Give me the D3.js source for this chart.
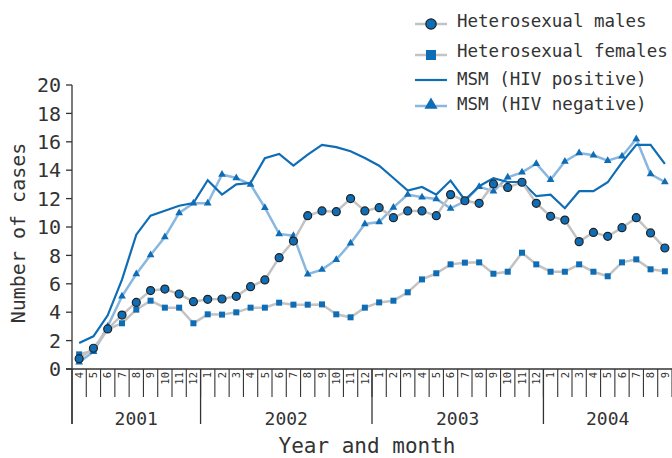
<!DOCTYPE html>
<html>
<head>
<meta charset="utf-8">
<script src="https://cdn.jsdelivr.net/npm/d3@7"></script>
<style>
  body { margin: 0; background: #fff; }
  text { font-family: "DejaVu Sans Mono", monospace; fill: #333; }
</style>
</head>
<body>
<svg id="chart" width="672" height="458"></svg>
<script>
// months shown on the axis, Apr 2001 .. Sep 2004
monthLabels = ["4","5","6","7","8","9","10","11","12",
  "1","2","3","4","5","6","7","8","9","10","11","12",
  "1","2","3","4","5","6","7","8","9","10","11","12",
  "1","2","3","4","5","6","7","8","9"]
years = ["2001","2002","2003","2004"]
yearMonths = [9, 12, 12, 9]
yTicks = [0,2,4,6,8,10,12,14,16,18,20]

hetMales = [0.73,1.46,2.82,3.80,4.69,5.52,5.63,5.28,4.74,4.91,4.93,5.12,5.80,6.27,7.84,9.01,10.80,11.13,11.08,12.0,11.13,
  11.36,10.66,11.13,11.13,10.8,12.28,11.85,11.67,13.03,12.79,13.15,11.67,10.75,10.49,8.97,9.62,9.34,9.95,10.66,9.58,8.52]
hetFemales = [1.03,1.3,2.8,3.22,4.18,4.81,4.32,4.32,3.22,3.85,3.83,3.99,4.32,4.32,4.67,4.53,4.53,4.55,3.85,3.64,4.32,
  4.69,4.81,5.40,6.31,6.74,7.37,7.49,7.51,6.71,6.85,8.19,7.37,6.85,6.85,7.37,6.85,6.53,7.51,7.72,7.02,6.88]
msmPos = [1.83,2.30,3.78,6.29,9.46,10.80,11.15,11.50,11.69,13.3,12.28,13.0,13.1,14.85,15.15,14.32,15.1,15.78,15.62,15.33,14.86,
  14.32,13.45,12.56,12.82,12.28,13.27,11.9,12.87,13.44,13.17,13.17,12.17,12.28,11.32,12.52,12.52,13.15,14.55,15.78,15.78,14.45]
msmNeg = [0.47,1.22,3.0,5.12,6.69,8.03,9.30,10.99,11.67,11.67,13.7,13.45,13.0,11.36,9.51,9.39,6.67,7.0,7.70,8.85,10.21,
  10.35,11.38,12.28,12.09,11.97,11.31,11.81,12.84,12.51,13.5,13.85,14.46,13.33,14.62,15.21,15.05,14.67,14.98,16.2,13.73,13.17]

darkBlue = "#0f6db5"
lightBlue = "#89b7df"
grey = "#c3c3c3"
axisCol = "#333"

svg = d3.select("#chart")
idx = d3.range(monthLabels.length)
x = d3.scaleBand().domain(idx).range([72, 672])
y = d3.scaleLinear().domain([0, 20]).range([369, 85])
cx = function(i){ return x(i) + x.bandwidth() / 2 }

// y axis
svg.append("line").attr("x1",72).attr("x2",72).attr("y1",y(20)).attr("y2",424)
  .attr("stroke",axisCol).attr("stroke-width",1.3)
svg.append("g").selectAll("line").data(yTicks).join("line")
  .attr("x1",66).attr("x2",72).attr("y1",d => y(d)).attr("y2",d => y(d))
  .attr("stroke",axisCol).attr("stroke-width",1.3)
svg.append("g").selectAll("text").data(yTicks).join("text")
  .attr("x",61).attr("y",d => y(d)).attr("dy","0.36em")
  .attr("text-anchor","end").attr("font-size",20).text(d => d)
svg.append("text").attr("transform","translate(25,233) rotate(-90)")
  .attr("text-anchor","middle").attr("font-size",20).text("Number of cases")

// x axis
svg.append("line").attr("x1",66).attr("x2",672).attr("y1",369).attr("y2",369)
  .attr("stroke",axisCol).attr("stroke-width",1.3)
svg.append("g").selectAll("line").data(idx.slice(1).concat([monthLabels.length])).join("line")
  .attr("x1",d => 72 + d * x.bandwidth()).attr("x2",d => 72 + d * x.bandwidth())
  .attr("y1",369).attr("y2",397).attr("stroke",axisCol).attr("stroke-width",1.1)
svg.append("g").selectAll("text").data(idx).join("text")
  .attr("transform",d => "translate(" + cx(d) + ",372) rotate(-90)")
  .attr("text-anchor","end").attr("dy","0.35em").attr("font-size",10.5)
  .text(d => monthLabels[d])

yearStart = d3.cumsum([0].concat(yearMonths))
svg.append("g").selectAll("line").data(yearStart.slice(0, years.length)).join("line")
  .attr("x1",d => 72 + d * x.bandwidth()).attr("x2",d => 72 + d * x.bandwidth())
  .attr("y1",369).attr("y2",424).attr("stroke",axisCol).attr("stroke-width",1.3)
svg.append("g").selectAll("text").data(years).join("text")
  .attr("x",(d,i) => 72 + (yearStart[i] + yearMonths[i] / 2) * x.bandwidth())
  .attr("y",425).attr("text-anchor","middle").attr("font-size",18).text(d => d)
svg.append("text").attr("x",367).attr("y",453).attr("text-anchor","middle")
  .attr("font-size",21).text("Year and month")

line = d3.line().x((d,i) => cx(i)).y(d => y(d))
triangle = d3.symbol().type(d3.symbolTriangle)

// heterosexual females
svg.append("path").attr("d",line(hetFemales)).attr("fill","none")
  .attr("stroke",grey).attr("stroke-width",2.5)
svg.append("g").selectAll("rect").data(hetFemales).join("rect")
  .attr("x",(d,i) => cx(i) - 3).attr("y",d => y(d) - 3)
  .attr("width",6).attr("height",6).attr("fill",darkBlue)

// MSM HIV negative
svg.append("path").attr("d",line(msmNeg)).attr("fill","none")
  .attr("stroke",lightBlue).attr("stroke-width",2.5)
svg.append("g").selectAll("path").data(msmNeg).join("path")
  .attr("d",triangle.size(26)).attr("transform",(d,i) => "translate(" + cx(i) + "," + y(d) + ")")
  .attr("fill",darkBlue)

// MSM HIV positive
svg.append("path").attr("d",line(msmPos)).attr("fill","none")
  .attr("stroke",darkBlue).attr("stroke-width",2.2)

// heterosexual males
svg.append("path").attr("d",line(hetMales)).attr("fill","none")
  .attr("stroke",grey).attr("stroke-width",2.5)
svg.append("g").selectAll("circle").data(hetMales).join("circle")
  .attr("cx",(d,i) => cx(i)).attr("cy",d => y(d)).attr("r",4)
  .attr("fill",darkBlue).attr("stroke","#222").attr("stroke-width",1.2)

// legend
legend = svg.append("g")
legend.append("line").attr("x1",415).attr("x2",447).attr("y1",24).attr("y2",24)
  .attr("stroke",grey).attr("stroke-width",2.5)
legend.append("circle").attr("cx",431).attr("cy",24).attr("r",5.2)
  .attr("fill",darkBlue).attr("stroke","#222").attr("stroke-width",1.2)
legend.append("line").attr("x1",415).attr("x2",447).attr("y1",55).attr("y2",55)
  .attr("stroke",grey).attr("stroke-width",2.5)
legend.append("rect").attr("x",426).attr("y",50).attr("width",10).attr("height",10).attr("fill",darkBlue)
legend.append("line").attr("x1",415).attr("x2",447).attr("y1",80).attr("y2",80)
  .attr("stroke",darkBlue).attr("stroke-width",2.2)
legend.append("line").attr("x1",415).attr("x2",447).attr("y1",106).attr("y2",106)
  .attr("stroke",lightBlue).attr("stroke-width",2.5)
legend.append("path").attr("d",d3.symbol().type(d3.symbolTriangle).size(75)())
  .attr("transform","translate(431,105)").attr("fill",darkBlue)

legendText = ["Heterosexual males","Heterosexual females","MSM (HIV positive)","MSM (HIV negative)"]
legendY = [27, 57, 85, 110]
legend.selectAll("text").data(legendText).join("text")
  .attr("x",457).attr("y",(d,i) => legendY[i]).attr("font-size",17.5).text(d => d)
</script>
</body>
</html>
